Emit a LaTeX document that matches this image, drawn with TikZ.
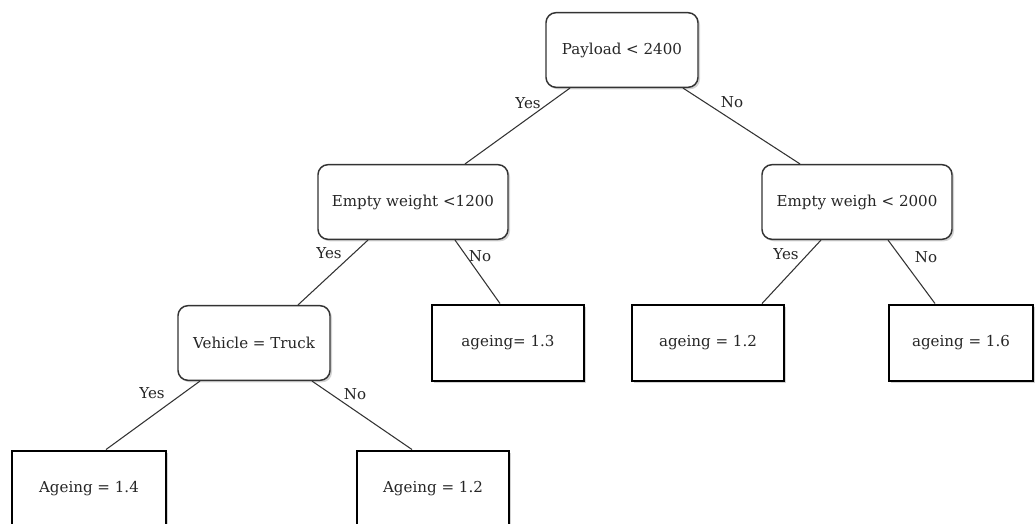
\documentclass[tikz,border=0pt]{standalone}
\usepackage{fontspec}
\setmainfont{DejaVu Serif}
\usetikzlibrary{positioning,shadows}

\begin{document}
\begin{tikzpicture}[
    x=0.75pt, y=-0.75pt,
    every node/.style={font=\fontsize{11.3}{13}\selectfont, text=black!85},
    test/.style={rectangle, rounded corners=7.5pt, draw=black!80, line width=1.1pt, fill=white,
        minimum width=114pt, minimum height=56pt, align=center,
        drop shadow={shadow xshift=1.5pt, shadow yshift=-1.5pt, opacity=0.35}},
    widetest/.style={test, minimum width=142.5pt},
    leaf/.style={rectangle, draw=black, line width=2.2pt, fill=white,
        minimum width=114pt, minimum height=57pt, align=center,
        drop shadow={shadow xshift=1.5pt, shadow yshift=-1.5pt, opacity=0.35}},
    edge/.style={draw=black!80, line width=0.8pt},
    answer/.style={inner sep=1pt}
]
    \useasboundingbox (0,0) rectangle (1035,524);

    % Tests
    \node[test] (payload) at (622,50) {Payload < 2400};
    \node[widetest] (ew1) at (413,202) {Empty weight <1200};
    \node[widetest] (ew2) at (857,202) {Empty weigh < 2000};
    \node[test] (veh) at (254,343) {Vehicle = Truck};

    % Leaves
    \node[leaf] (a13) at (508,343) {ageing= 1.3};
    \node[leaf] (a12) at (708,343) {ageing = 1.2};
    \node[leaf, minimum width=108pt] (a16) at (961,343) {ageing = 1.6};
    \node[leaf, minimum width=115.5pt] (a14) at (89,489) {Ageing = 1.4};
    \node[leaf] (a122) at (433,489) {Ageing = 1.2};

    % Branches
    \draw[edge] ([xshift=-39pt]payload.south) -- ([xshift=39pt]ew1.north);
    \draw[edge] ([xshift=45.75pt]payload.south) -- ([xshift=-42.75pt]ew2.north);
    \draw[edge] ([xshift=-33.75pt]ew1.south) -- ([xshift=33pt]veh.north);
    \draw[edge] ([xshift=31.5pt]ew1.south) -- ([xshift=-6pt]a13.north);
    \draw[edge] ([xshift=-27pt]ew2.south) -- ([xshift=40.5pt]a12.north);
    \draw[edge] ([xshift=23.25pt]ew2.south) -- ([xshift=-19.5pt]a16.north);
    \draw[edge] ([xshift=-40.5pt]veh.south) -- ([xshift=12.75pt]a14.north);
    \draw[edge] ([xshift=43.5pt]veh.south) -- ([xshift=-15.75pt]a122.north);

    % Yes / No
    \node[answer] (y1) at (528,103) {Yes};
    \node[answer] (n1) at (732,102) {No};
    \node[answer] (y2) at (329,253) {Yes};
    \node[answer] (n2) at (480,256) {No};
    \node[answer] (y3) at (786,254) {Yes};
    \node[answer] (n3) at (926,257) {No};
    \node[answer] (y4) at (152,393) {Yes};
    \node[answer] (n4) at (355,394) {No};
\end{tikzpicture}
\end{document}
